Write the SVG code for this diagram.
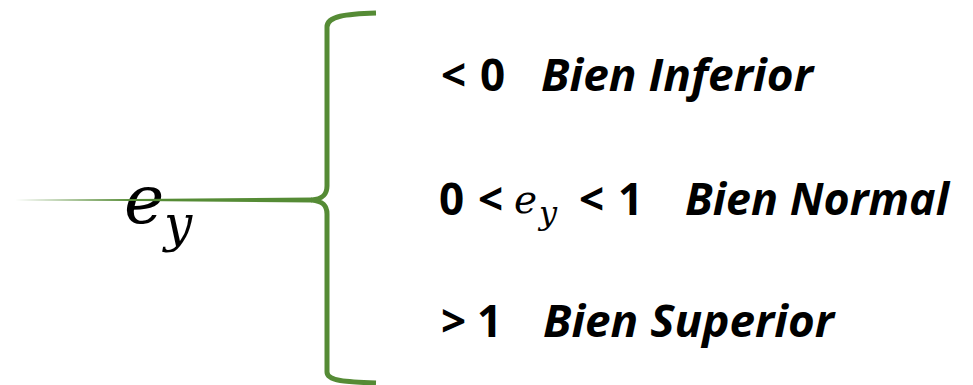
<svg xmlns="http://www.w3.org/2000/svg" width="973" height="385" viewBox="0 0 973 385">
  <style>
    .lbl { font-family: "Open Sans", "Liberation Sans", sans-serif; font-weight: bold; font-size: 44px; fill: #000; }
    .name { font-style: italic; }
    .math { font-family: "DejaVu Serif", "Liberation Serif", serif; font-style: italic; fill: #000; }
    .brace { fill: none; stroke: #558B35; stroke-width: 5; stroke-linecap: butt; stroke-linejoin: round; }
    .stem { fill: #558B35; }
  </style>

  <!-- elasticity symbol on the left -->
  <g id="ey">
    <text class="math" x="124" y="223" font-size="68">e</text>
    <text class="math" x="164" y="241" font-size="50">y</text>
  </g>

  <!-- brace opening onto the three cases, with its tapered stem -->
  <g id="connectors">
    <path class="stem" d="M15,200 L312,197.6 L312,202.4 Z"/>
    <path class="brace" d="M376,13 C346,14 327,16 327,27 L327,186 C327,196 321,199 312,200 C321,201 327,204 327,214 L327,372 C327,381 346,382 376,383"/>
  </g>

  <g id="case-inferior">
    <text class="lbl" x="441" y="91">&lt;</text>
    <text class="lbl" x="480" y="91">0</text>
    <text class="lbl name" x="541" y="91" textLength="272" lengthAdjust="spacingAndGlyphs">Bien Inferior</text>
  </g>

  <g id="case-normal">
    <text class="lbl" x="439" y="215">0</text>
    <text class="lbl" x="478" y="215">&lt;</text>
    <text class="math" x="514" y="213" font-size="39">e</text>
    <text class="math" x="539" y="224" font-size="32">y</text>
    <text class="lbl" x="579" y="215">&lt;</text>
    <text class="lbl" x="618" y="215">1</text>
    <text class="lbl name" x="685" y="215" textLength="264" lengthAdjust="spacingAndGlyphs">Bien Normal</text>
  </g>

  <g id="case-superior">
    <text class="lbl" x="441" y="337">&gt;</text>
    <text class="lbl" x="477" y="337">1</text>
    <text class="lbl name" x="543" y="337" textLength="291" lengthAdjust="spacingAndGlyphs">Bien Superior</text>
  </g>
</svg>
